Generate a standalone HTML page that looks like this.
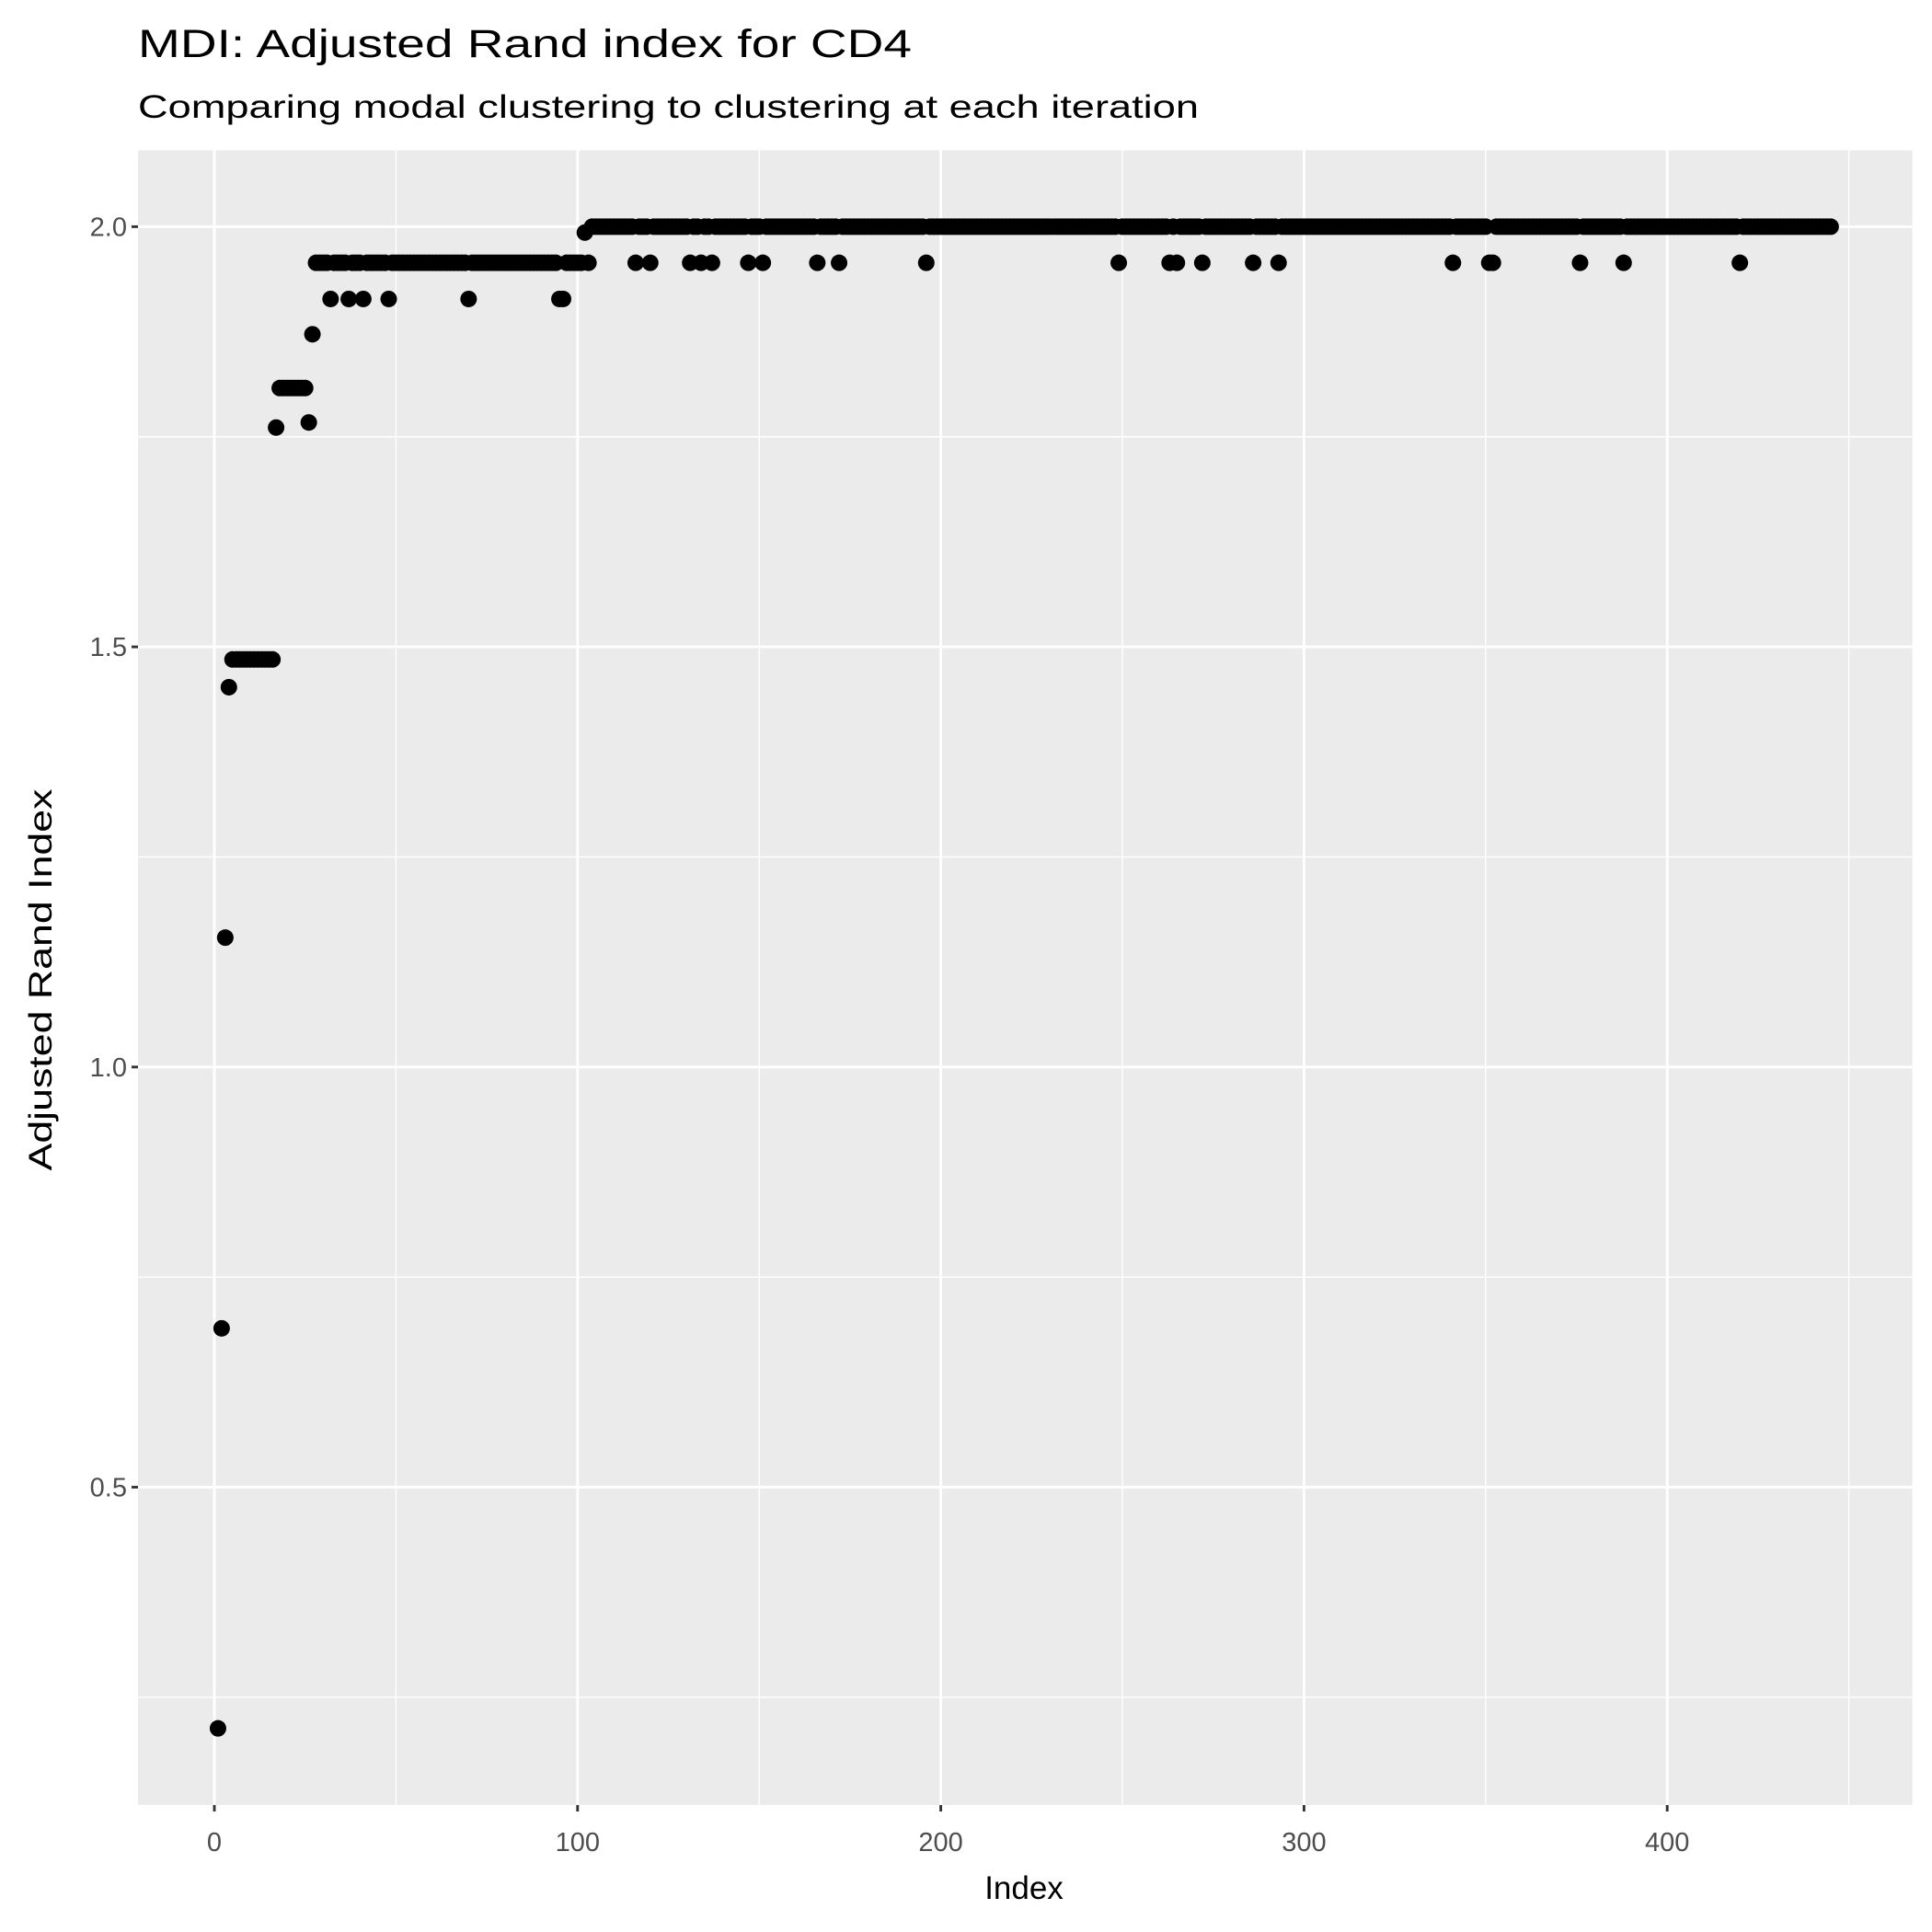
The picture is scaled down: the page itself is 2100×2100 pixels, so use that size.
<!DOCTYPE html>
<html><head><meta charset="utf-8"><style>html,body{margin:0;padding:0;background:#fff}svg{display:block}text{font-family:"Liberation Sans",Arial,sans-serif}</style></head>
<body>
<svg id="chart" width="2100" height="2100" viewBox="0 0 2100 2100" xmlns="http://www.w3.org/2000/svg">
<rect width="2100" height="2100" fill="#fff"/>
<text x="150" y="62" font-size="43" fill="#000" textLength="841" lengthAdjust="spacingAndGlyphs">MDI: Adjusted Rand index for CD4</text>
<text x="150" y="128" font-size="35" fill="#000" textLength="1153" lengthAdjust="spacingAndGlyphs">Comparing modal clustering to clustering at each iteration</text>
<rect x="150" y="163.4" width="1928.6" height="1798.6" fill="#EBEBEB"/>
<g id="grid"></g>
<g id="axes"></g>
<g id="points"></g>
<text x="1113" y="2064" font-size="35" text-anchor="middle" fill="#000">Index</text>
<text transform="translate(56,1065) rotate(-90)" font-size="35" text-anchor="middle" fill="#000" textLength="415" lengthAdjust="spacingAndGlyphs">Adjusted Rand Index</text>
</svg>
<script>
// run-length data: [count, value] for consecutive indices starting at 1
const runCounts = [1,1,1,1,12,1,8,1,1,
 4,1,4,1,3,1,6,1,21,1,24,2,5,1,1,
 12,1,3,1,10,1,2,1,2,1,9,1,3,1,14,1,5,1,23,1,52,1,13,1,1,1,6,1,13,1,6,1,47,1,9,2,23,1,11,1,31,1,25];
const runValues = [0.213,0.689,1.154,1.452,1.485,1.761,1.808,1.767,1.872,
 1.957,1.914,1.957,1.914,1.957,1.914,1.957,1.914,1.957,1.914,1.957,1.914,1.957,1.993,1.957,
 2.0,1.957,2.0,1.957,2.0,1.957,2.0,1.957,2.0,1.957,2.0,1.957,2.0,1.957,2.0,1.957,2.0,1.957,2.0,1.957,2.0,1.957,2.0,1.957,2.0,1.957,2.0,1.957,2.0,1.957,2.0,1.957,2.0,1.957,2.0,1.957,2.0,1.957,2.0,1.957,2.0,1.957,2.0];
const xTicks = [0,100,200,300,400];
const xMinor = [50,150,250,350,450];
const yTicks = [0.5,1.0,1.5,2.0];
const yTickLabels = ["0.5","1.0","1.5","2.0"];
const yMinor = [0.25,0.75,1.25,1.75];

const NS = "http://www.w3.org/2000/svg";
const PL = 150, PR = 2078.6, PT = 163.4, PB = 1962;
function xScale(v){ return 233.0 + v * 3.948; }
function yScale(v){ return 246.4 + (2 - v) * 913.4; }
function mk(tag, attrs, parent){ const e = document.createElementNS(NS, tag); for (const k in attrs) e.setAttribute(k, attrs[k]); parent.appendChild(e); return e; }

const grid = document.getElementById('grid');
const axes = document.getElementById('axes');
xMinor.forEach(v => { const l = mk('line', {x1:xScale(v), x2:xScale(v), y1:PT, y2:PB, stroke:'#fff', 'stroke-width':1.4}, grid);
 
  });
yMinor.forEach(v => { const l = mk('line', {x1:PL, x2:PR, y1:yScale(v), y2:yScale(v), stroke:'#fff', 'stroke-width':1.4}, grid);
 
  });
xTicks.forEach(v => {
 const l = mk('line', {x1:xScale(v), x2:xScale(v), y1:PT, y2:PB, stroke:'#fff', 'stroke-width':2.9}, grid);
 
 
 const t = mk('line', {x1:xScale(v), x2:xScale(v), y1:PB, y2:PB+7, stroke:'#333', 'stroke-width':2.9}, axes);
 
 
 const tx = mk('text', {x:xScale(v), y:2012, 'font-size':29, 'text-anchor':'middle', fill:'#4D4D4D'}, axes);
 tx.textContent = String(v);
 
 
});
yTicks.forEach((v,i) => {
 const l = mk('line', {x1:PL, x2:PR, y1:yScale(v), y2:yScale(v), stroke:'#fff', 'stroke-width':2.9}, grid);
 
 
 const t = mk('line', {x1:PL-7, x2:PL, y1:yScale(v), y2:yScale(v), stroke:'#333', 'stroke-width':2.9}, axes);
 
 
 const tx = mk('text', {x:PL-12, y:yScale(v)+10, 'font-size':29, 'text-anchor':'end', fill:'#4D4D4D'}, axes);
 tx.textContent = yTickLabels[i];
 
 
});
const pts = document.getElementById('points');
let idx = 1;
runCounts.forEach((c, r) => {
 for (let k = 0; k < c; k++) {
  const p = mk('circle', {cx:xScale(idx), cy:yScale(runValues[r]), r:9, fill:'#000'}, pts);
  
  
  idx++;
 }
});
</script>
</body></html>
